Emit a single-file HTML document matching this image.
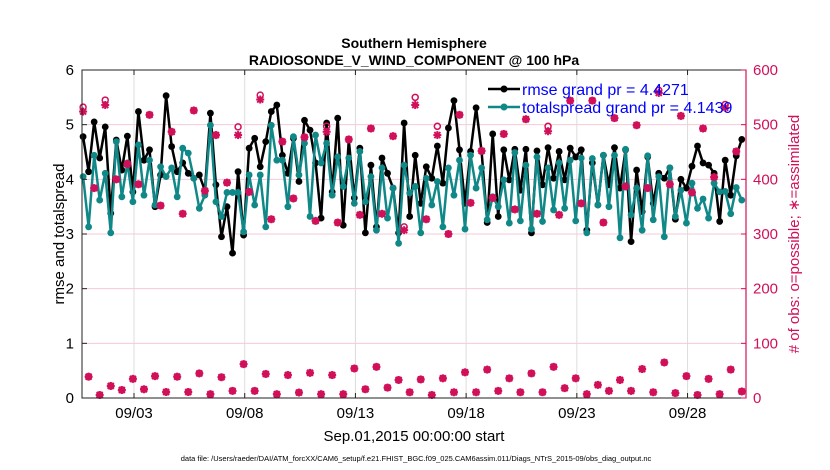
<!DOCTYPE html>
<html><head><meta charset="utf-8"><style>
body{margin:0;background:#fff}
svg{display:block;font-family:"Liberation Sans",Arial,sans-serif}
</style></head><body>
<svg id="c" width="830" height="470" viewBox="0 0 830 470">
<rect width="830" height="470" fill="#fff"/>
<text x="414" y="48" text-anchor="middle" font-size="14" font-weight="bold">Southern Hemisphere</text>
<text x="414" y="65" text-anchor="middle" font-size="14" font-weight="bold">RADIOSONDE_V_WIND_COMPONENT @ 100 hPa</text>
<g id="grid"></g>
<g id="series"></g>
<g id="obs"></g>
<g id="axes"></g>
<text x="414" y="441" text-anchor="middle" font-size="15">Sep.01,2015 00:00:00 start</text>
<text transform="translate(64,234) rotate(-90)" text-anchor="middle" font-size="15">rmse and totalspread</text>
<text transform="translate(799,234) rotate(-90)" text-anchor="middle" font-size="15" fill="#d1105a"># of obs: o=possible; ∗=assimilated</text>
<text x="416" y="461" text-anchor="middle" font-size="7.5">data file: /Users/raeder/DAI/ATM_forcXX/CAM6_setup/f.e21.FHIST_BGC.f09_025.CAM6assim.011/Diags_NTrS_2015-09/obs_diag_output.nc</text>
<g id="legend">
<line x1="488" y1="89" x2="520" y2="89" stroke="#000" stroke-width="2.5"/><circle cx="504" cy="89" r="3.5" fill="#000"/>
<text x="522" y="95" font-size="16" fill="#0000ff">rmse grand pr = 4.4271</text>
<line x1="488" y1="107" x2="520" y2="107" stroke="#108888" stroke-width="2.5"/><circle cx="504" cy="107" r="3.5" fill="#108888"/>
<text x="522" y="113" font-size="16" fill="#0000ff">totalspread grand pr = 4.1439</text>
</g>
</svg>
<script>
const rmse=[4.78,4.14,5.05,4.39,4.96,3.38,4.72,4.17,4.79,3.77,5.24,4.35,4.54,3.5,4.08,5.53,4.6,4.14,4.3,4.11,4.02,4.08,3.8,5.21,3.9,2.95,3.5,2.65,4.14,2.98,
4.57,4.75,4.23,4.69,5.24,5.36,4.44,4.11,4.75,3.96,5.08,4.9,4.3,3.29,5.03,3.77,5.12,3.16,4.72,3.66,4.57,3.02,4.26,3.13,4.39,4.11,3.84,3.02,5.03,3.32,
4.44,3.56,4.23,4.02,4.61,3.93,4.94,5.44,4.54,3.56,4.51,5.31,4.51,3.21,4.83,3.32,4.54,3.99,4.55,3.8,4.55,3.02,4.52,3.9,4.58,4.02,4.51,3.99,4.57,4.41,
4.54,3.07,4.3,3.53,4.44,3.9,4.58,3.84,4.54,2.86,4.17,3.41,4.41,3.56,4.11,4.02,4.21,3.27,4.0,3.84,4.24,4.61,4.3,4.26,4.11,3.23,4.35,3.71,4.43,4.73];
const spread=[4.05,3.13,4.44,3.62,4.11,3.02,4.69,3.68,4.3,3.59,4.63,3.71,4.35,3.53,4.23,4.05,4.21,3.68,4.57,4.48,4.02,3.47,3.71,4.99,3.59,3.32,3.76,3.76,3.76,3.04,
4.08,3.53,4.08,3.13,4.99,4.35,4.35,3.5,4.78,4.08,4.66,3.32,4.81,4.3,4.66,3.71,4.41,3.87,4.39,3.56,4.51,3.59,4.05,3.07,4.21,3.29,3.84,2.83,4.26,3.75,
3.87,3.02,4.02,3.53,3.96,3.13,4.21,3.71,4.35,3.09,4.44,3.84,4.21,3.26,3.68,3.5,3.99,3.2,4.49,3.24,4.26,3.09,4.41,3.23,4.21,3.44,4.3,3.47,4.35,3.24,
4.39,3.02,4.38,3.53,4.44,3.5,4.44,2.93,4.55,3.35,3.84,3.07,4.43,3.26,4.05,2.95,4.21,3.32,3.8,3.2,3.93,3.47,3.64,3.29,3.93,3.77,3.78,3.37,3.85,3.62];
const assimHigh=[524,384,536,400,428,391,518,352,487,337,526,379,481,394,481,377,546,327,469,365,477,324,487,321,473,335,493,337,479,307,
536,327,481,300,518,357,452,366,483,345,510,337,488,335,544,356,544,321,512,387,499,384,558,391,516,376,493,404,531,451];
const possHigh=[532,384,545,400,428,391,518,352,487,337,526,379,481,394,496,377,554,327,469,365,477,324,497,321,473,335,493,337,479,313,
550,327,497,300,518,357,452,366,483,345,510,337,497,335,544,356,544,321,512,387,499,384,563,391,516,376,493,404,537,451];
const assimLow=[39,5.5,22,14.6,35,16,40,11,39,11,45,7,38,13,62,13,44,7,42,10,46,7,42,7,54,16,57,19,33,10.5,
34,5.5,36,10.5,47,10.5,52,13,36,10.5,45,10.5,57,18,36,7,24,13,33,13,53,10.5,65,9,40,5.5,35,7,52,12];
const xTickDays=[3,8,13,18,23,28];
const xTickLabels=["09/03","09/08","09/13","09/18","09/23","09/28"];
const yTicks=[0,1,2,3,4,5,6];
const y2Ticks=[0,100,200,300,400,500,600];

const L=82,R=746,T=70,B=398;
const dMin=0.651,dMax=30.64;
const X=d=>L+(d-dMin)/(dMax-dMin)*(R-L);
const Y=v=>B-v/6*(B-T);
const Y2=v=>B-v/600*(B-T);
const tOf=i=>0.7+0.25*i;
const NS="http://www.w3.org/2000/svg";
function mk(tag,attrs,parent){const e=document.createElementNS(NS,tag);for(const k in attrs)e.setAttribute(k,attrs[k]);parent.appendChild(e);return e;}
const grid=document.getElementById('grid'),obs=document.getElementById('obs'),ser=document.getElementById('series'),ax=document.getElementById('axes');
const MAG="#d1105a";
xTickDays.forEach((d,i)=>{const l=mk('line',{x1:X(d),x2:X(d),y1:T,y2:B,stroke:"#dcdcdc","stroke-width":1},grid);

});
y2Ticks.forEach(v=>{if(v===0||v===600)return;const l=mk('line',{x1:L,x2:R,y1:Y2(v),y2:Y2(v),stroke:"#f6cadb","stroke-width":1},grid);

});
function star(x,y,parent,name){const g=mk('g',{stroke:MAG,"stroke-width":2},parent);


mk('line',{x1:x-4,x2:x+4,y1:y,y2:y},g);mk('line',{x1:x,x2:x,y1:y-4,y2:y+4},g);
mk('line',{x1:x-3,x2:x+3,y1:y-3,y2:y+3},g);mk('line',{x1:x-3,x2:x+3,y1:y+3,y2:y-3},g);return g;}
possHigh.forEach((v,k)=>{const c=mk('circle',{cx:X(tOf(2*k)),cy:Y2(v),r:3,fill:"none",stroke:MAG,"stroke-width":1.5},obs);

});
assimHigh.forEach((v,k)=>star(X(tOf(2*k)),Y2(v),obs,'assimilated-obs-marker'));
assimLow.forEach((v,k)=>{star(X(tOf(2*k+1)),Y2(v),obs,'assimilated-obs-low-marker');
const c=mk('circle',{cx:X(tOf(2*k+1)),cy:Y2(v),r:3,fill:"none",stroke:MAG,"stroke-width":1.5},obs);

});
function line(arr,color,name){const pts=arr.map((v,i)=>X(tOf(i)).toFixed(1)+","+Y(v).toFixed(1)).join(" ");
const p=mk('polyline',{points:pts,fill:"none",stroke:color,"stroke-width":2.5,"stroke-linejoin":"round"},ser);


arr.forEach((v,i)=>{const c=mk('circle',{cx:X(tOf(i)),cy:Y(v),r:3.4,fill:color},ser);

});}
line(rmse,"#000","rmse");
line(spread,"#108888","totalspread");
const box=mk('rect',{x:L,y:T,width:R-L,height:B-T,fill:"none",stroke:"#222","stroke-width":1},ax);


const ra=mk('line',{x1:R,x2:R,y1:T,y2:B,stroke:MAG,"stroke-width":1.2},ax);


yTicks.forEach(v=>{mk('line',{x1:L,x2:L+5,y1:Y(v),y2:Y(v),stroke:"#222"},ax);
const t=mk('text',{x:L-8,y:Y(v)+5,"text-anchor":"end","font-size":15},ax);t.textContent=v;

});
y2Ticks.forEach(v=>{mk('line',{x1:R-5,x2:R,y1:Y2(v),y2:Y2(v),stroke:MAG},ax);
const t=mk('text',{x:R+7,y:Y2(v)+5,"font-size":15,fill:MAG},ax);t.textContent=v;

});
xTickDays.forEach((d,i)=>{mk('line',{x1:X(d),x2:X(d),y1:B-5,y2:B,stroke:"#222"},ax);mk('line',{x1:X(d),x2:X(d),y1:T,y2:T+5,stroke:"#222"},ax);
const t=mk('text',{x:X(d),y:B+20,"text-anchor":"middle","font-size":15},ax);t.textContent=xTickLabels[i];

});
</script>
</body></html>
